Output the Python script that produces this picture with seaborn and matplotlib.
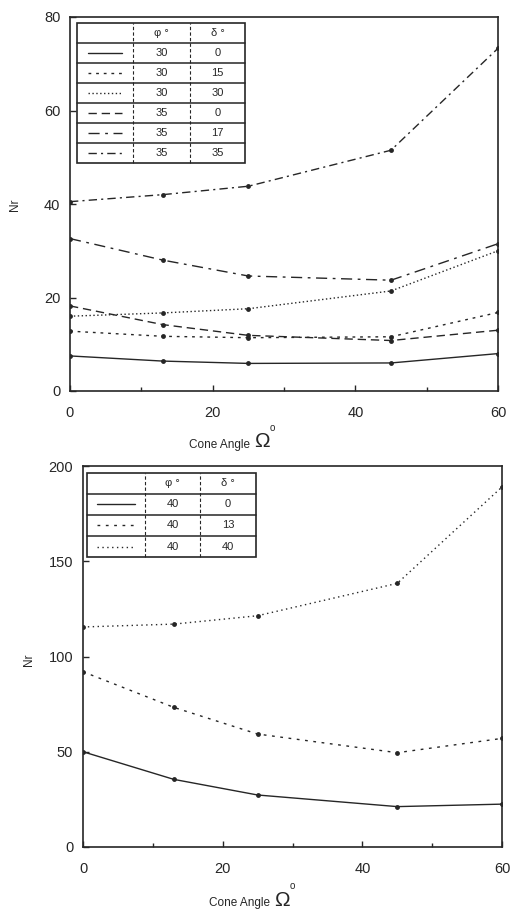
import matplotlib
matplotlib.use("Agg")
import matplotlib.pyplot as plt
import seaborn as sns
import pandas as pd
import numpy as np

sns.set_style("ticks")
plt.rcParams['font.family'] = ['Liberation Sans', 'DejaVu Sans']

# ---- data ----
cone_angle = [0, 13, 25, 45, 60]

top_phi = ["30", "30", "30", "35", "35", "35"]
top_delta = ["0", "15", "30", "0", "17", "35"]
top_nr_30_0 = [7.5, 6.4, 5.9, 6.0, 8.0]
top_nr_30_15 = [12.8, 11.7, 11.4, 11.6, 16.8]
top_nr_30_30 = [16.0, 16.7, 17.6, 21.4, 30.0]
top_nr_35_0 = [18.2, 14.2, 11.9, 10.8, 13.0]
top_nr_35_17 = [32.6, 28.0, 24.6, 23.7, 31.5]
top_nr_35_35 = [40.5, 42.0, 43.8, 51.5, 73.3]

bot_phi = ["40", "40", "40"]
bot_delta = ["0", "13", "40"]
bot_nr_40_0 = [50.0, 35.5, 27.3, 21.2, 22.5]
bot_nr_40_13 = [92.0, 73.3, 59.3, 49.5, 57.0]
bot_nr_40_40 = [115.5, 117.0, 121.4, 138.4, 189.0]

y_top_ticks = [0, 20, 40, 60, 80]
y_bot_ticks = [0, 50, 100, 150, 200]
x_ticks = [0, 20, 40, 60]

top_series = [top_nr_30_0, top_nr_30_15, top_nr_30_30, top_nr_35_0, top_nr_35_17, top_nr_35_35]
bot_series = [bot_nr_40_0, bot_nr_40_13, bot_nr_40_40]

top_dashes = ["", (2, 3.5), (1, 1.8), (6, 3.5), (8, 4, 2, 4), (6, 3, 1.5, 3)]
bot_dashes = ["", (2, 4), (1, 2.5)]

INK = "#262626"


def long_df(series, phis, deltas):
    rows = []
    for s, p, d in zip(series, phis, deltas):
        key = f"{p}/{d}"
        for x, y in zip(cone_angle, s):
            rows.append({"angle": x, "Nr": y, "series": key})
    return pd.DataFrame(rows)


def draw_panel(ax, series, phis, deltas, dashes, ylim, yticks, table_box, col_x):
    df = long_df(series, phis, deltas)
    keys = [f"{p}/{d}" for p, d in zip(phis, deltas)]
    sns.lineplot(data=df, x="angle", y="Nr", style="series", style_order=keys,
                 dashes=dict(zip(keys, dashes)), markers=dict(zip(keys, ["o"] * len(keys))),
                 color=INK, linewidth=1.0, markersize=3.5, markeredgewidth=0,
                 legend=False, ax=ax)
    ax.set_xlim(0, 60)
    ax.set_ylim(*ylim)
    ax.set_xticks(x_ticks)
    ax.set_yticks(yticks)
    ax.set_xticks([10, 30, 50], minor=True)
    ax.tick_params(axis="both", which="major", direction="in", length=4, width=1,
                   labelsize=10.5, colors=INK)
    ax.tick_params(axis="x", which="major", pad=11)
    ax.tick_params(axis="y", which="major", pad=7)
    ax.tick_params(axis="x", which="minor", direction="in", length=3, width=1, colors=INK)
    for sp in ax.spines.values():
        sp.set_visible(True)
        sp.set_linewidth(1.2)
        sp.set_color(INK)
    ax.set_xlabel("")
    ax.set_ylabel("")

    # table legend
    x0, x1, y1, y0 = table_box
    n = len(series) + 1
    ax.add_patch(plt.Rectangle((x0, y0), x1 - x0, y1 - y0, transform=ax.transAxes,
                               fill=False, lw=1.2, ec=INK, zorder=5))
    rh = (y1 - y0) / n
    for i in range(1, n):
        yy = y1 - i * rh
        ax.plot([x0, x1], [yy, yy], transform=ax.transAxes, color=INK, lw=1.1,
                zorder=5, clip_on=False)
    for cx in col_x:
        ax.plot([cx, cx], [y0, y1], transform=ax.transAxes, color=INK, lw=0.8,
                ls=(0, (3, 2)), zorder=5, clip_on=False)
    c1 = (col_x[0] + col_x[1]) / 2
    c2 = (col_x[1] + x1) / 2
    yc = y1 - rh / 2
    ax.text(c1, yc, "φ °", transform=ax.transAxes, ha="center", va="center",
            fontsize=8, color=INK)
    ax.text(c2, yc, "δ °", transform=ax.transAxes, ha="center", va="center",
            fontsize=8, color=INK)
    for i, (p, d, ds) in enumerate(zip(phis, deltas, dashes)):
        yc = y1 - (i + 1.5) * rh
        ls = "-" if ds == "" else (0, ds)
        ax.plot([x0 + 0.025, col_x[0] - 0.025], [yc, yc], transform=ax.transAxes,
                color=INK, lw=1.0, ls=ls, zorder=5, clip_on=False)
        ax.text(c1, yc, p, transform=ax.transAxes, ha="center", va="center",
                fontsize=8, color=INK)
        ax.text(c2, yc, d, transform=ax.transAxes, ha="center", va="center",
                fontsize=8, color=INK)


fig = plt.figure(figsize=(5.12, 9.16), dpi=100)
ax1 = fig.add_axes([70 / 512, 1 - 391 / 916, 428 / 512, 374 / 916])
ax2 = fig.add_axes([83 / 512, 1 - 847 / 916, 419 / 512, 381 / 916])

draw_panel(ax1, top_series, top_phi, top_delta, top_dashes, (0, 80), y_top_ticks,
           (0.016, 0.409, 0.984, 0.61), (0.147, 0.28))
draw_panel(ax2, bot_series, bot_phi, bot_delta, bot_dashes, (0, 200), y_bot_ticks,
           (0.0095, 0.413, 0.982, 0.761), (0.148, 0.279))

# axis labels
fig.text(15 / 512, 1 - 205 / 916, "Nr", rotation=90, ha="center", va="center",
         fontsize=8.5, color=INK)
fig.text(29 / 512, 1 - 660 / 916, "Nr", rotation=90, ha="center", va="center",
         fontsize=8.5, color=INK)

for (xc, yc) in [(258, 445), (278, 903)]:
    fig.text((xc - 8) / 512, 1 - yc / 916, "Cone Angle", ha="right", va="center",
             fontsize=8.5, color=INK)
    fig.text((xc - 4) / 512, 1 - (yc - 3) / 916, "Ω", ha="left", va="center",
             fontsize=15, color=INK)
    fig.text((xc + 12) / 512, 1 - (yc - 17) / 916, "o", ha="left", va="center",
             fontsize=7, color=INK)

fig.savefig("out.png", dpi=100)
